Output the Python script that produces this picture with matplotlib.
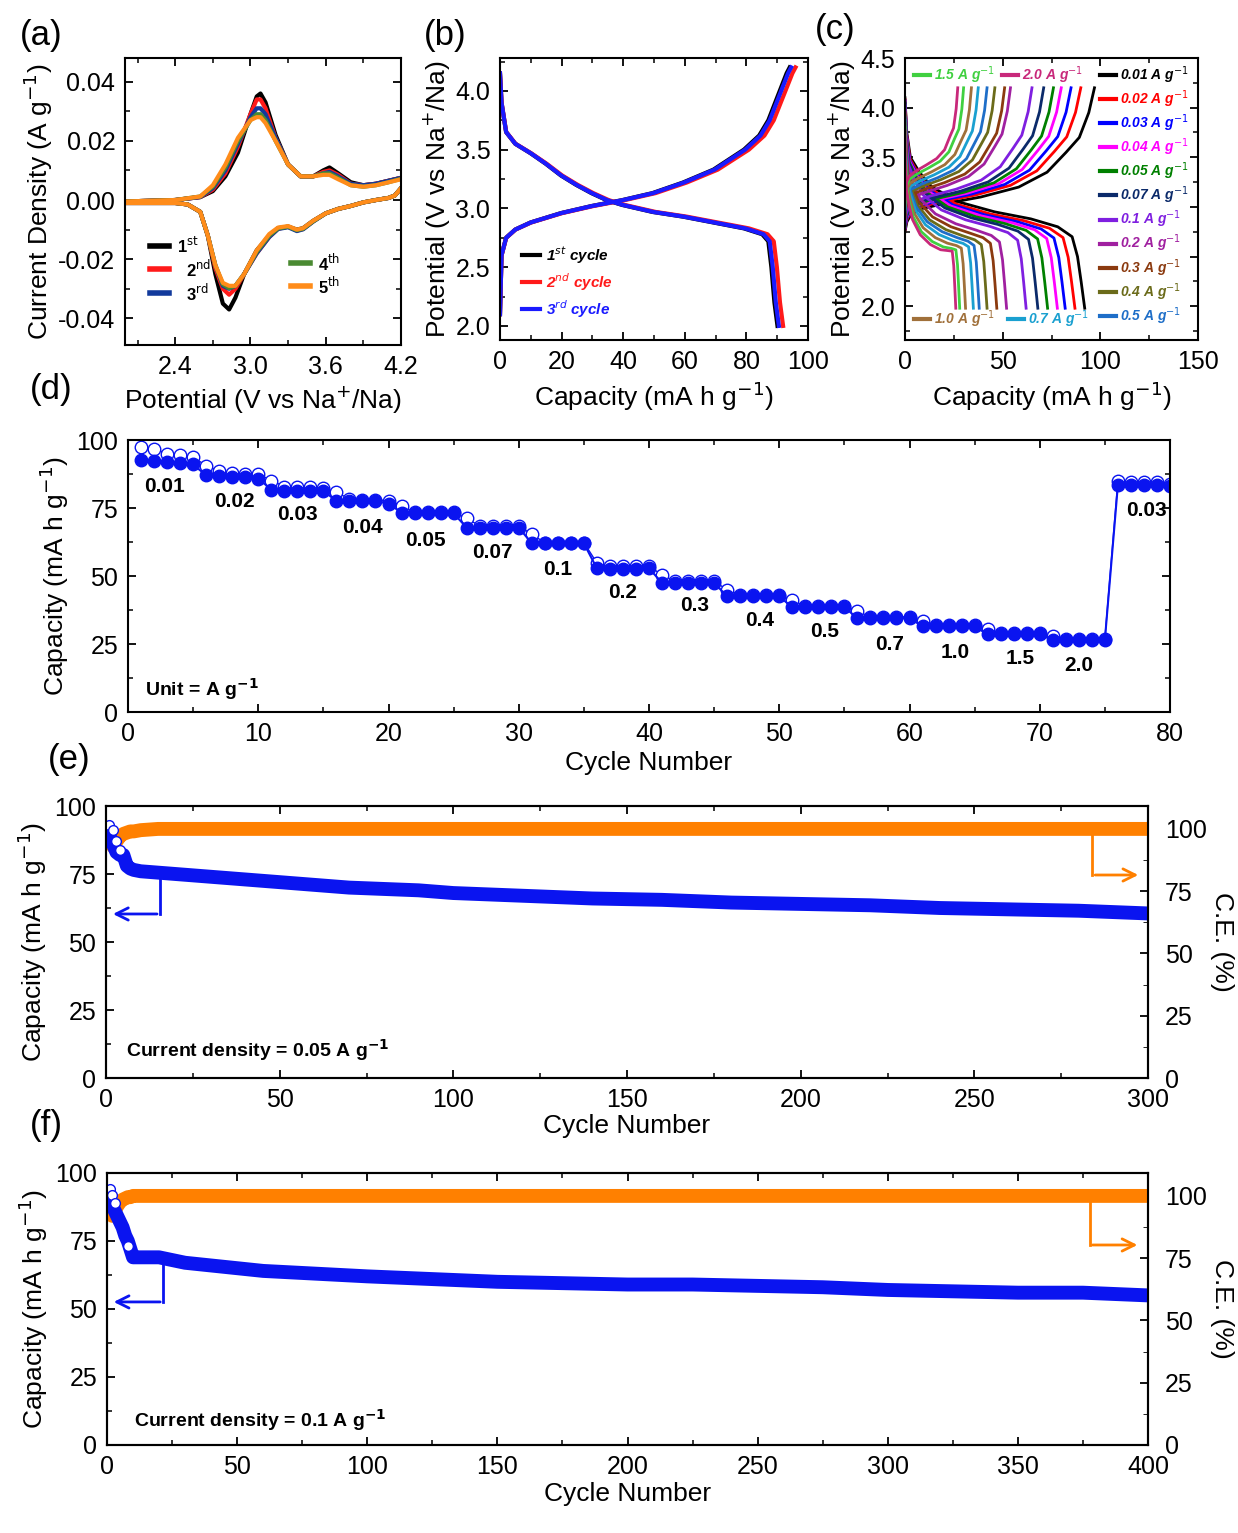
import numpy as np
import matplotlib
matplotlib.use("Agg")
import matplotlib.pyplot as plt
from matplotlib.ticker import AutoMinorLocator

plt.rcParams["font.family"] = ["Liberation Sans", "DejaVu Sans"]
plt.rcParams["font.size"] = 15
plt.rcParams["axes.linewidth"] = 1.5

W, H = 1238, 1533

# ---------------- (a) CV data ----------------
cv_up_v = [2.0, 2.4, 2.6, 2.7, 2.8, 2.9, 3.0, 3.05, 3.08, 3.12, 3.2, 3.3, 3.4, 3.5, 3.58, 3.63, 3.7, 3.8, 3.9, 4.0, 4.1, 4.2]
cv_up = {
    "1st": [-0.0005, 0.0, 0.001, 0.003, 0.008, 0.016, 0.029, 0.035, 0.036, 0.033, 0.022, 0.012, 0.008, 0.008, 0.010, 0.011, 0.009, 0.006, 0.005, 0.0055, 0.0065, 0.0075],
    "2nd": [-0.0005, 0.0, 0.001, 0.0035, 0.009, 0.018, 0.029, 0.034, 0.034, 0.031, 0.021, 0.012, 0.008, 0.008, 0.0095, 0.010, 0.0085, 0.0055, 0.005, 0.0055, 0.0065, 0.0075],
    "3rd": [-0.0005, 0.0, 0.001, 0.004, 0.010, 0.019, 0.028, 0.031, 0.031, 0.029, 0.021, 0.012, 0.008, 0.008, 0.009, 0.0095, 0.008, 0.0055, 0.005, 0.0055, 0.0065, 0.0075],
    "4th": [-0.0005, 0.0, 0.0012, 0.0045, 0.011, 0.020, 0.027, 0.029, 0.029, 0.027, 0.020, 0.012, 0.008, 0.008, 0.009, 0.009, 0.0075, 0.005, 0.0045, 0.005, 0.006, 0.0072],
    "5th": [-0.0005, 0.0, 0.0012, 0.005, 0.012, 0.021, 0.027, 0.028, 0.028, 0.026, 0.020, 0.012, 0.008, 0.008, 0.0085, 0.0085, 0.007, 0.005, 0.0045, 0.005, 0.006, 0.007],
}
cv_dn_v = [4.2, 4.15, 4.1, 4.0, 3.9, 3.8, 3.7, 3.6, 3.5, 3.42, 3.37, 3.3, 3.22, 3.15, 3.05, 2.95, 2.88, 2.83, 2.78, 2.72, 2.66, 2.6, 2.5, 2.4, 2.2, 2.0]
cv_dn = {
    "1st": [0.004, 0.0015, 0.0007, 0.0, -0.0008, -0.002, -0.003, -0.0045, -0.007, -0.0095, -0.010, -0.009, -0.0095, -0.012, -0.017, -0.025, -0.033, -0.037, -0.035, -0.025, -0.012, -0.004, -0.0015, -0.001, -0.001, -0.001],
    "2nd": [0.004, 0.0015, 0.0007, 0.0, -0.0008, -0.002, -0.003, -0.0045, -0.0072, -0.0098, -0.0103, -0.009, -0.0097, -0.0125, -0.018, -0.025, -0.030, -0.032, -0.030, -0.023, -0.012, -0.004, -0.0015, -0.001, -0.001, -0.001],
    "3rd": [0.004, 0.0015, 0.0007, 0.0, -0.0008, -0.002, -0.003, -0.0045, -0.0073, -0.0099, -0.0105, -0.0092, -0.0098, -0.0125, -0.018, -0.025, -0.029, -0.030, -0.029, -0.022, -0.012, -0.004, -0.0015, -0.001, -0.001, -0.001],
    "4th": [0.004, 0.0015, 0.0007, 0.0, -0.0008, -0.002, -0.003, -0.0045, -0.0072, -0.0097, -0.0102, -0.009, -0.0096, -0.012, -0.0175, -0.025, -0.029, -0.0298, -0.0285, -0.022, -0.012, -0.004, -0.0015, -0.001, -0.001, -0.001],
    "5th": [0.004, 0.0015, 0.0007, 0.0, -0.0008, -0.002, -0.003, -0.0045, -0.007, -0.0095, -0.010, -0.0088, -0.0093, -0.0115, -0.017, -0.025, -0.029, -0.029, -0.028, -0.022, -0.012, -0.004, -0.0015, -0.001, -0.001, -0.001],
}
cv_colors = {"1st": "black", "2nd": "#ff1a1a", "3rd": "#123a9c", "4th": "#4a8a32", "5th": "#ff8c1a"}

# ---------------- (b) GCD first cycles ----------------
chg_q = [0, 0.5, 2, 5, 10, 20, 30, 40, 50, 60, 70, 80, 85, 88, 91, 94, 95]
chg_v = [2.1, 2.6, 2.75, 2.82, 2.88, 2.96, 3.02, 3.07, 3.13, 3.22, 3.33, 3.5, 3.62, 3.75, 3.95, 4.15, 4.2]
dis_q = [0, 0.5, 2, 5, 10, 15, 20, 25, 30, 35, 40, 50, 60, 70, 80, 86, 88, 89, 90, 91]
dis_v = [4.15, 3.9, 3.65, 3.55, 3.47, 3.38, 3.28, 3.2, 3.13, 3.07, 3.03, 2.97, 2.93, 2.88, 2.83, 2.78, 2.72, 2.5, 2.2, 2.0]
b_cycles = ["1st", "2nd", "3rd"]
b_scale = [0.99, 1.01, 0.995]
b_colors = ["black", "#ff1a1a", "#1a1aff"]

# ---------------- (c) rate GCD ----------------
rates = ["0.01", "0.02", "0.03", "0.04", "0.05", "0.07", "0.1", "0.2", "0.3", "0.4", "0.5", "0.7", "1.0", "1.5", "2.0"]
rate_colors = ["black", "#ff0000", "#0000ff", "#ff00ff", "#008000", "#0b2a6a", "#7f1fe0", "#a020a0",
               "#8b3a0f", "#6b6b1a", "#1e6ec8", "#1aa0d0", "#a0703a", "#40d040", "#c8287a"]
cap_dis = [92, 87, 82, 78, 73, 68, 62, 52, 47, 42, 38, 35, 31, 28, 26]
cap_chg = [97, 90, 85, 80, 76, 71, 65, 54, 51, 46, 42, 37.5, 34, 30, 27]
polar = [0, 0.02, 0.03, 0.04, 0.05, 0.06, 0.08, 0.12, 0.15, 0.18, 0.2, 0.23, 0.26, 0.3, 0.33]
c_dis_frac = [0, 0.01, 0.03, 0.08, 0.15, 0.3, 0.5, 0.7, 0.85, 0.93, 0.96, 0.98, 1.0]
c_dis_v = [4.1, 3.75, 3.5, 3.35, 3.2, 3.05, 2.95, 2.88, 2.8, 2.7, 2.5, 2.25, 1.98]
c_chg_frac = [0, 0.01, 0.03, 0.08, 0.2, 0.4, 0.6, 0.75, 0.85, 0.92, 0.97, 1.0]
c_chg_v = [2.75, 2.85, 2.92, 2.98, 3.03, 3.1, 3.2, 3.35, 3.55, 3.7, 3.95, 4.2]

# ---------------- (d) rate capability ----------------
d_cycles = list(range(1, 81))
d_dis = [92.6, 92.2, 91.8, 91.5, 91.0, 87.0, 86.6, 86.3, 86.3, 85.8,
         81.8, 81.4, 81.4, 81.4, 81.3, 77.6, 77.6, 77.6, 77.6, 76.6,
         73.3, 73.0, 73.0, 73.0, 73.0, 67.8, 67.8, 67.8, 67.8, 67.8,
         62.0, 62.0, 62.0, 62.0, 62.0, 52.8, 52.5, 52.5, 52.5, 52.8,
         47.5, 47.5, 47.5, 47.5, 47.5, 42.5, 42.5, 42.5, 42.5, 42.5,
         38.5, 38.5, 38.5, 38.5, 38.5, 34.5, 34.5, 34.5, 34.5, 34.5,
         31.5, 31.5, 31.5, 31.5, 31.5, 28.5, 28.5, 28.5, 28.5, 28.5,
         26.5, 26.5, 26.5, 26.5, 26.5, 83.5, 83.5, 83.5, 83.5, 83.0]
d_chg = [97.3, 96.7, 95.0, 94.4, 93.8, 90.5, 88.6, 88.0, 87.6, 87.6,
         85.1, 82.9, 82.7, 82.7, 82.3, 80.8, 78.3, 78.1, 78.0, 77.7,
         75.9, 73.4, 73.4, 73.4, 73.4, 71.2, 68.4, 68.4, 68.4, 68.4,
         65.3, 62.3, 62.3, 62.3, 62.3, 54.8, 53.5, 53.5, 53.5, 53.5,
         50.5, 48.0, 48.0, 48.0, 48.0, 45.0, 43.0, 43.0, 43.0, 43.0,
         41.0, 39.0, 39.0, 39.0, 39.0, 37.0, 35.0, 35.0, 35.0, 35.0,
         33.5, 32.0, 32.0, 32.0, 32.0, 30.5, 29.0, 29.0, 29.0, 29.0,
         28.0, 27.0, 27.0, 27.0, 27.0, 85.0, 84.5, 84.5, 84.5, 84.0]
d_labels = ["0.01", "0.02", "0.03", "0.04", "0.05", "0.07", "0.1", "0.2", "0.3", "0.4", "0.5", "0.7", "1.0", "1.5", "2.0", "0.03"]
d_label_x = [2.8, 8.2, 13.0, 18.0, 22.8, 28.0, 33.0, 38.0, 43.5, 48.5, 53.5, 58.5, 63.5, 68.5, 73.0, 78.2]
d_label_y = [83, 77.5, 72.5, 68, 63, 58.5, 52.5, 44, 39, 33.5, 29.5, 25, 22, 19.5, 17, 74]

# ---------------- (e) 0.05 A/g cycling ----------------
e_cyc = [1, 2, 3, 4, 5, 6, 7, 8, 10, 15, 20, 30, 40, 50, 60, 70, 80, 90, 100, 120, 140, 160, 180, 200, 220, 240, 260, 280, 300]
e_cap = [89, 86, 83, 82, 82, 78, 77, 76.5, 76, 75.5, 75, 74, 73, 72, 71, 70, 69.5, 69, 68, 67, 66, 65.5, 64.5, 64, 63.5, 62.5, 62, 61.5, 60.5]
e_ce = [95.5, 93, 95, 97, 98, 98.5, 99, 99, 99.5, 100, 100, 100, 100, 100, 100, 100, 100, 100, 100, 100, 100, 100, 100, 100, 100, 100, 100, 100, 100]
e_chg_cyc = [1, 2, 3, 4]
e_chg = [93, 91, 87, 84]

# ---------------- (f) 0.1 A/g cycling ----------------
f_cyc = [1, 2, 3, 4, 5, 6, 7, 8, 9, 10, 15, 20, 30, 40, 50, 60, 80, 100, 125, 150, 175, 200, 225, 250, 275, 300, 325, 350, 375, 400]
f_cap = [90, 88, 86, 84, 82, 80, 77, 75, 72, 69, 69, 69, 67, 66, 65, 64, 63, 62, 61, 60, 59.5, 59, 59, 58.5, 58, 57, 56.5, 56, 56, 55]
f_ce = [93, 92, 94, 96, 97.5, 98.5, 99, 99.5, 99.5, 100, 100, 100, 100, 100, 100, 100, 100, 100, 100, 100, 100, 100, 100, 100, 100, 100, 100, 100, 100, 100]
f_chg_cyc = [1, 2, 3, 8]
f_chg = [94, 92, 89, 73]

BLUE = "#0a14f0"
ORANGE = "#ff8000"


def add_ax(fig, x0, y0, x1, y1):
    return fig.add_axes([x0 / W, 1 - y1 / H, (x1 - x0) / W, (y1 - y0) / H])


def style(ax, right=True):
    ax.tick_params(direction="in", length=6, width=1.3, top=True, right=right, labelsize=18, pad=7)
    ax.tick_params(which="minor", direction="in", length=3.5, width=1.1, top=True, right=right)


fig = plt.figure(figsize=(W / 100, H / 100), dpi=100)

# (a)
ax = add_ax(fig, 125, 58, 401, 345)
for k in cv_up:
    ax.plot(cv_up_v, cv_up[k], color=cv_colors[k], lw=3)
    ax.plot(cv_dn_v, cv_dn[k], color=cv_colors[k], lw=3)
ax.set_xlim(2.0, 4.2); ax.set_ylim(-0.049, 0.048)
ax.set_xticks([2.4, 3.0, 3.6, 4.2]); ax.set_yticks([-0.04, -0.02, 0.0, 0.02, 0.04])
ax.yaxis.set_major_formatter(matplotlib.ticker.FormatStrFormatter("%.2f"))
ax.xaxis.set_minor_locator(AutoMinorLocator(2)); ax.yaxis.set_minor_locator(AutoMinorLocator(2))
style(ax)
ax.set_xlabel("Potential (V vs Na$^{+}$/Na)", fontsize=19)
ax.set_ylabel("Current Density (A g$^{-1}$)", fontsize=19, labelpad=2)
for i, (k, xx, yy) in enumerate([("1st", 0.09, 0.345), ("2nd", 0.09, 0.265), ("3rd", 0.09, 0.18),
                                   ("4th", 0.6, 0.285), ("5th", 0.6, 0.205)]):
    ax.plot([xx, xx + 0.07], [yy, yy], color=cv_colors[k], lw=4, transform=ax.transAxes)
    ax.text(xx + 0.1 + (0.03 if k in ("2nd", "3rd") else 0), yy, k[0] + "$^{\\mathrm{" + k[1:] + "}}$",
            transform=ax.transAxes, va="center", fontsize=12, fontweight="bold")

# (b)
ax = add_ax(fig, 500, 58, 808, 340)
for c, s, col in zip(b_cycles, b_scale, b_colors):
    ax.plot(np.array(chg_q) * s, chg_v, color=col, lw=3)
    ax.plot(np.array(dis_q) * s, dis_v, color=col, lw=3)
ax.set_xlim(0, 100); ax.set_ylim(1.88, 4.28)
ax.set_xticks(range(0, 101, 20)); ax.set_yticks([2.0, 2.5, 3.0, 3.5, 4.0])
ax.xaxis.set_minor_locator(AutoMinorLocator(2)); ax.yaxis.set_minor_locator(AutoMinorLocator(2))
style(ax)
ax.set_xlabel("Capacity (mA h g$^{-1}$)", fontsize=19)
ax.set_ylabel("Potential (V vs Na$^{+}$/Na)", fontsize=19, labelpad=2)
for c, col, yy in zip(b_cycles, b_colors, [0.3, 0.205, 0.11]):
    ax.plot([0.07, 0.13], [yy, yy], color=col, lw=3, transform=ax.transAxes)
    ax.text(0.15, yy, c[0] + "$^{" + c[1:] + "}$ cycle", color=col, transform=ax.transAxes,
            va="center", fontsize=11, fontweight="bold", style="italic")

# (c)
ax = add_ax(fig, 905, 58, 1198, 340)
cdf = np.array(c_dis_frac); cdv = np.array(c_dis_v)
ccf = np.array(c_chg_frac); ccv = np.array(c_chg_v)
for i in range(len(rates)):
    p = polar[i]
    ax.plot(ccf * cap_chg[i], ccv + p * (1 - ccf ** 4), color=rate_colors[i], lw=2)
    ax.plot(cdf * cap_dis[i], np.maximum(cdv - p * (1 - cdf ** 8), 1.98), color=rate_colors[i], lw=2)
ax.set_xlim(0, 150); ax.set_ylim(1.66, 4.5)
ax.set_xticks([0, 50, 100, 150]); ax.set_yticks([2.0, 2.5, 3.0, 3.5, 4.0, 4.5])
ax.xaxis.set_minor_locator(AutoMinorLocator(2)); ax.yaxis.set_minor_locator(AutoMinorLocator(2))
style(ax)
ax.set_xlabel("Capacity (mA h g$^{-1}$)", fontsize=19)
ax.set_ylabel("Potential (V vs Na$^{+}$/Na)", fontsize=19, labelpad=2)
for j, i in enumerate(range(0, 11)):
    yy = 0.94 - j * 0.0855
    ax.plot([0.665, 0.72], [yy, yy], color=rate_colors[i], lw=3, transform=ax.transAxes)
    ax.text(0.735, yy, rates[i] + " A g$^{-1}$", color=rate_colors[i], transform=ax.transAxes,
            va="center", fontsize=10, fontweight="bold", style="italic")
for i, xx, yy in [(13, 0.03, 0.94), (14, 0.33, 0.94), (12, 0.03, 0.075), (11, 0.35, 0.075)]:
    ax.plot([xx, xx + 0.055], [yy, yy], color=rate_colors[i], lw=3, transform=ax.transAxes)
    ax.text(xx + 0.07, yy, rates[i] + " A g$^{-1}$", color=rate_colors[i], transform=ax.transAxes,
            va="center", fontsize=10, fontweight="bold", style="italic")

# (d)
ax = add_ax(fig, 128, 440, 1170, 712)
ax.plot(d_cycles, d_chg, "o-", color=BLUE, mfc="white", ms=9, lw=1)
ax.plot(d_cycles, d_dis, "o-", color=BLUE, ms=9, lw=1.5)
ax.set_xlim(0, 80); ax.set_ylim(0, 100)
ax.set_xticks(range(0, 81, 10)); ax.set_yticks(range(0, 101, 25))
ax.xaxis.set_minor_locator(AutoMinorLocator(2)); ax.yaxis.set_minor_locator(AutoMinorLocator(2))
style(ax)
ax.set_xlabel("Cycle Number", fontsize=19)
ax.set_ylabel("Capacity (mA h g$^{-1}$)", fontsize=19)
for t, xx, yy in zip(d_labels, d_label_x, d_label_y):
    ax.text(xx, yy, t, ha="center", va="center", fontsize=15, fontweight="bold")
ax.text(1.3, 8.5, "Unit = A g$^{\\mathbf{-1}}$", fontsize=14, fontweight="bold", va="center")


def cycling(box, cyc, cap, ce, ccyc, cchg, xmax, blue_arrow, orange_arrow, text, xt, yt):
    ax = add_ax(fig, *box)
    ax2 = ax.twinx()
    ax2.plot(cyc, ce, "-", color=ORANGE, lw=10, solid_capstyle="round", zorder=3)
    ax.plot(cyc, cap, "-", color=BLUE, lw=10, solid_capstyle="round")
    ax.plot(ccyc, cchg, "o", color=BLUE, mfc="white", ms=7)
    ax.set_zorder(ax2.get_zorder() + 1); ax.patch.set_visible(False)
    ax.set_xlim(0, xmax); ax.set_ylim(0, 100)
    ax2.set_ylim(0, 109.2)
    ax.set_yticks(range(0, 101, 25)); ax2.set_yticks(range(0, 101, 25))
    ax.xaxis.set_minor_locator(AutoMinorLocator(2)); ax.yaxis.set_minor_locator(AutoMinorLocator(2))
    ax2.yaxis.set_minor_locator(AutoMinorLocator(2))
    style(ax, right=False)
    ax2.tick_params(direction="in", length=6, width=1.3, labelsize=18, pad=12)
    ax2.tick_params(which="minor", direction="in", length=3.5)
    ax.set_xlabel("Cycle Number", fontsize=19, labelpad=2)
    ax.set_ylabel("Capacity (mA h g$^{-1}$)", fontsize=19)
    ax2.set_ylabel("C.E. (%)", fontsize=19, rotation=270, labelpad=20)
    bx, by0, by1, bx1 = blue_arrow
    ax.plot([bx, bx], [by0, by1], color=BLUE, lw=2)
    ax.annotate("", xy=(bx1, by1), xytext=(bx, by1),
                arrowprops=dict(arrowstyle="->", color=BLUE, lw=2, mutation_scale=22))
    ox, oy0, oy1, ox1 = orange_arrow
    ax2.plot([ox, ox], [oy0, oy1], color=ORANGE, lw=2)
    ax2.annotate("", xy=(ox1, oy1), xytext=(ox, oy1),
                 arrowprops=dict(arrowstyle="->", color=ORANGE, lw=2, mutation_scale=22))
    ax.text(xt, yt, text, fontsize=14, fontweight="bold", va="center")


cycling((106, 806, 1148, 1078), e_cyc, e_cap, e_ce, e_chg_cyc, e_chg, 300,
        (15.5, 76.5, 60.3, 1.2), (284, 97.6, 81.5, 298), "Current density = 0.05 A g$^{\\mathbf{-1}}$", 5.8, 10.3)
cycling((107, 1173, 1148, 1445), f_cyc, f_cap, f_ce, f_chg_cyc, f_chg, 400,
        (21.5, 67.3, 52.6, 1.5), (377.6, 98.4, 80.3, 397), "Current density = 0.1 A g$^{\\mathbf{-1}}$", 10.4, 9.2)

for t, x, y in [("(a)", 20, 35), ("(b)", 424, 35), ("(c)", 815, 30), ("(d)", 30, 390), ("(e)", 48, 760), ("(f)", 30, 1125)]:
    fig.text(x / W, 1 - y / H, t, fontsize=25, va="center", ha="left")

fig.savefig("out.png", dpi=100)
